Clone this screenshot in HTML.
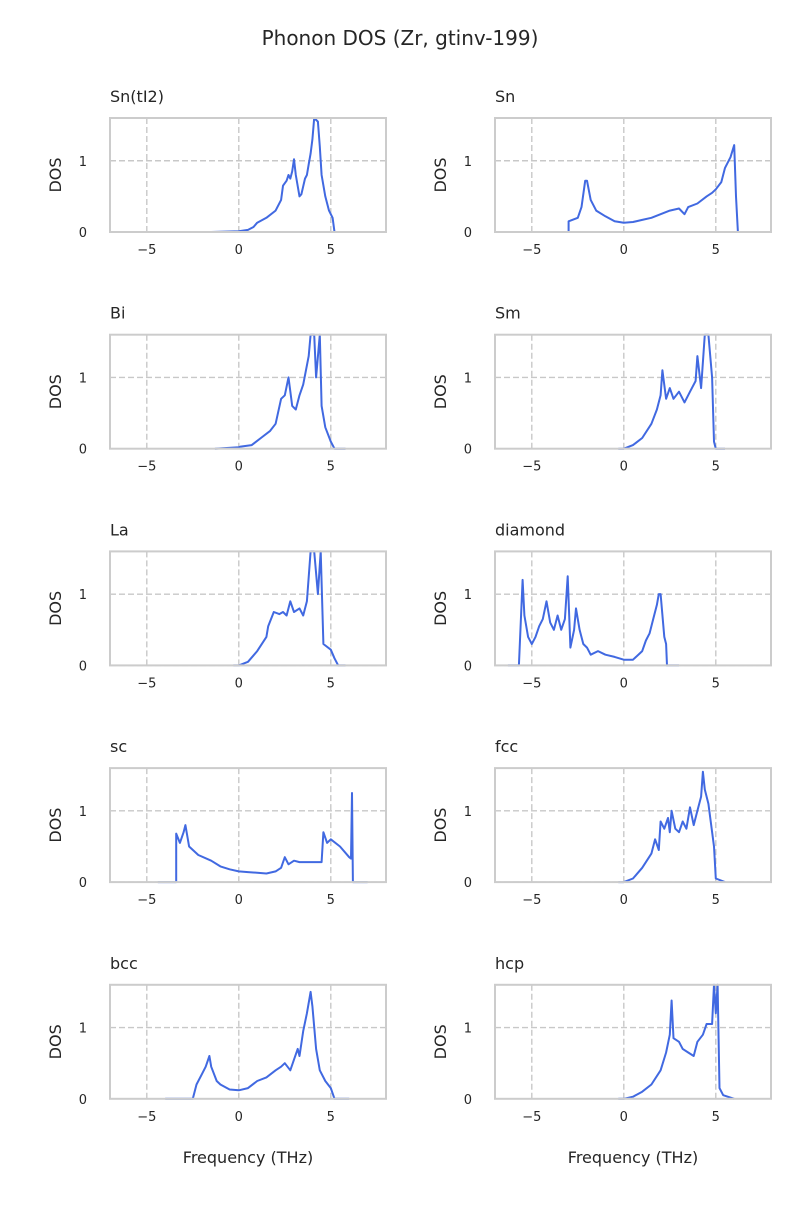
<!DOCTYPE html>
<html><head><meta charset="utf-8"><style>
body{margin:0;background:#fff;font-family:"Liberation Sans","DejaVu Sans",sans-serif}
svg text{font-family:"DejaVu Sans","Liberation Sans",sans-serif;fill:#262626}
</style></head><body>
<svg id="c" width="800" height="1200" viewBox="0 0 800 1200" xmlns="http://www.w3.org/2000/svg">
<text x="400" y="45" font-size="20" text-anchor="middle">Phonon DOS (Zr, gtinv-199)</text>
</svg>
<script>
const panelNames = ["Sn(tI2)","Sn","Bi","Sm","La","diamond","sc","fcc","bcc","hcp"];
const xTicks = [-5,0,5];
const yTicks = [0,1];
const dosSnTI2 = [[-1.5,0],[0,0.01],[0.5,0.03],[0.8,0.07],[1,0.13],[1.5,0.2],[2,0.3],[2.3,0.45],[2.4,0.65],[2.6,0.72],[2.7,0.8],[2.8,0.75],[2.9,0.85],[3,1.02],[3.1,0.8],[3.3,0.5],[3.4,0.53],[3.6,0.75],[3.7,0.8],[3.8,0.95],[3.9,1.1],[4,1.3],[4.1,1.6],[4.3,1.55],[4.4,1.2],[4.5,0.8],[4.7,0.5],[4.9,0.3],[5.1,0.2],[5.2,0],[5.8,0]];
const dosSn = [[-4,0],[-3,0],[-3,0.15],[-2.5,0.2],[-2.3,0.35],[-2.1,0.72],[-2,0.72],[-1.8,0.45],[-1.5,0.3],[-1,0.22],[-0.5,0.15],[0,0.13],[0.5,0.14],[1,0.17],[1.5,0.2],[2,0.25],[2.5,0.3],[3,0.33],[3.3,0.25],[3.5,0.35],[4,0.4],[4.5,0.5],[4.8,0.55],[5,0.6],[5.3,0.7],[5.5,0.9],[5.8,1.05],[6,1.22],[6.1,0.5],[6.2,0],[7,0]];
const dosBi = [[-1.3,0],[0,0.02],[0.1,0.03],[0.7,0.05],[1.2,0.15],[1.7,0.25],[2,0.35],[2.3,0.7],[2.5,0.75],[2.7,1.0],[2.9,0.6],[3.1,0.55],[3.3,0.75],[3.5,0.9],[3.8,1.3],[3.9,1.6],[4.1,1.6],[4.2,1.0],[4.4,1.6],[4.5,0.6],[4.7,0.3],[5,0.1],[5.2,0],[5.8,0]];
const dosSm = [[-0.3,0],[0,0],[0.5,0.05],[1,0.15],[1.5,0.35],[1.8,0.55],[2,0.75],[2.1,1.1],[2.3,0.7],[2.5,0.85],[2.7,0.7],[3,0.8],[3.3,0.65],[3.6,0.8],[3.9,0.95],[4,1.3],[4.2,0.85],[4.4,1.6],[4.6,1.6],[4.8,1.0],[4.9,0.1],[5,0],[5.5,0]];
const dosLa = [[-0.3,0],[0,0],[0.5,0.05],[1,0.2],[1.5,0.4],[1.6,0.55],[1.9,0.75],[2.2,0.72],[2.4,0.75],[2.6,0.7],[2.8,0.9],[3,0.75],[3.3,0.8],[3.5,0.7],[3.7,0.9],[3.9,1.6],[4.1,1.6],[4.3,1.0],[4.45,1.6],[4.6,0.3],[5,0.22],[5.2,0.1],[5.4,0],[5.8,0]];
const dosDiamond = [[-6.3,0],[-5.7,0],[-5.5,1.2],[-5.4,0.7],[-5.2,0.4],[-5,0.3],[-4.8,0.4],[-4.6,0.55],[-4.4,0.65],[-4.2,0.9],[-4,0.6],[-3.8,0.5],[-3.6,0.7],[-3.4,0.5],[-3.2,0.65],[-3.05,1.25],[-2.9,0.25],[-2.7,0.5],[-2.6,0.8],[-2.4,0.5],[-2.2,0.3],[-2,0.25],[-1.8,0.15],[-1.4,0.2],[-1,0.15],[-0.5,0.12],[0,0.08],[0.5,0.08],[1,0.2],[1.2,0.35],[1.4,0.45],[1.6,0.65],[1.8,0.85],[1.9,1.0],[2,1.0],[2.2,0.4],[2.3,0.3],[2.35,0],[3,0]];
const dosSc = [[-4.4,0],[-3.4,0],[-3.4,0.68],[-3.2,0.55],[-3,0.7],[-2.9,0.8],[-2.7,0.5],[-2.2,0.38],[-1.5,0.3],[-1,0.22],[-0.5,0.18],[0,0.15],[0.5,0.14],[1,0.13],[1.5,0.12],[2,0.15],[2.3,0.2],[2.5,0.35],[2.7,0.25],[3,0.3],[3.3,0.28],[4,0.28],[4.5,0.28],[4.6,0.7],[4.8,0.55],[5,0.6],[5.5,0.5],[6,0.35],[6.1,0.33],[6.15,1.25],[6.2,0],[7,0]];
const dosFcc = [[-0.3,0],[0,0],[0.5,0.05],[1,0.2],[1.5,0.4],[1.7,0.6],[1.9,0.45],[2,0.85],[2.2,0.75],[2.4,0.9],[2.5,0.7],[2.6,1.0],[2.8,0.75],[3,0.7],[3.2,0.85],[3.4,0.75],[3.6,1.05],[3.8,0.8],[4,1.0],[4.2,1.2],[4.3,1.55],[4.4,1.3],[4.6,1.1],[4.9,0.5],[5,0.05],[5.5,0]];
const dosBcc = [[-4,0],[-2.5,0],[-2.3,0.2],[-2,0.35],[-1.8,0.45],[-1.6,0.6],[-1.5,0.45],[-1.2,0.25],[-1,0.2],[-0.5,0.13],[0,0.12],[0.5,0.15],[1,0.25],[1.5,0.3],[2,0.4],[2.3,0.45],[2.5,0.5],[2.8,0.4],[3,0.55],[3.2,0.7],[3.3,0.6],[3.5,0.95],[3.7,1.2],[3.9,1.5],[4,1.3],[4.2,0.7],[4.4,0.4],[4.7,0.25],[5,0.15],[5.2,0],[6,0]];
const dosHcp = [[-0.3,0],[0,0],[0.5,0.03],[1,0.1],[1.5,0.2],[2,0.4],[2.3,0.65],[2.5,0.9],[2.6,1.38],[2.7,0.85],[3,0.8],[3.2,0.7],[3.5,0.65],[3.8,0.6],[4,0.8],[4.3,0.9],[4.5,1.05],[4.8,1.05],[4.9,1.6],[5,1.2],[5.1,1.6],[5.2,0.15],[5.4,0.05],[6,0]];
const allSeries = [dosSnTI2,dosSn,dosBi,dosSm,dosLa,dosDiamond,dosSc,dosFcc,dosBcc,dosHcp];

const NS="http://www.w3.org/2000/svg";
const svg=document.getElementById('c');
const XMIN=-7,XMAX=8,YMIN=0,YMAX=1.6,PW=276,PH=114;
function mk(t,a,p){const e=document.createElementNS(NS,t);for(const k in a)e.setAttribute(k,a[k]);(p||svg).appendChild(e);return e;}
panelNames.forEach((name,i)=>{
  const col=i%2,row=Math.floor(i/2);
  const L=col?495:110, T=118+row*216.7;
  const sx=v=>L+(v-XMIN)/(XMAX-XMIN)*PW;
  const sy=v=>T+PH-(Math.min(v,YMAX)-YMIN)/(YMAX-YMIN)*PH;
  const g=mk('g',{});
  
  
  xTicks.forEach(t=>{
    const l=mk('line',{x1:sx(t),x2:sx(t),y1:T,y2:T+PH,stroke:'#c8c8c8','stroke-width':1.4,'stroke-dasharray':'6,3'},g);
    
    
    const tx=mk('text',{x:sx(t),y:T+PH+22,'font-size':13,'text-anchor':'middle'},g);
    tx.textContent=t<0?'\u2212'+(-t):String(t);
    
    
  });
  yTicks.forEach(t=>{
    const l=mk('line',{x1:L,x2:L+PW,y1:sy(t),y2:sy(t),stroke:'#c8c8c8','stroke-width':1.4,'stroke-dasharray':'6,3'},g);
    
    
    const ty=mk('text',{x:L-23,y:sy(t)+5,'font-size':13,'text-anchor':'end'},g);
    ty.textContent=String(t);
    
    
  });
  const d=allSeries[i].map((p,j)=>(j?'L':'M')+sx(p[0]).toFixed(1)+','+sy(p[1]).toFixed(1)).join('');
  const path=mk('path',{d:d,fill:'none',stroke:'#4169e1','stroke-width':2,'stroke-linejoin':'round'},g);
  
  
  const fr=mk('rect',{x:L,y:T,width:PW,height:PH,fill:'none',stroke:'#cccccc','stroke-width':2},g);
  
  
  const tt=mk('text',{x:L,y:T-16,'font-size':16},g);
  tt.textContent=name;
  
  
  const yl=mk('text',{x:0,y:0,'font-size':16,'text-anchor':'middle',transform:`translate(${L-49},${T+PH/2}) rotate(-90)`},g);
  yl.textContent='DOS';
  
  
  if(row===4){
    const xl=mk('text',{x:L+PW/2,y:T+PH+64,'font-size':16,'text-anchor':'middle'},g);
    xl.textContent='Frequency (THz)';
    
    
  }
});
</script>
</body></html>
